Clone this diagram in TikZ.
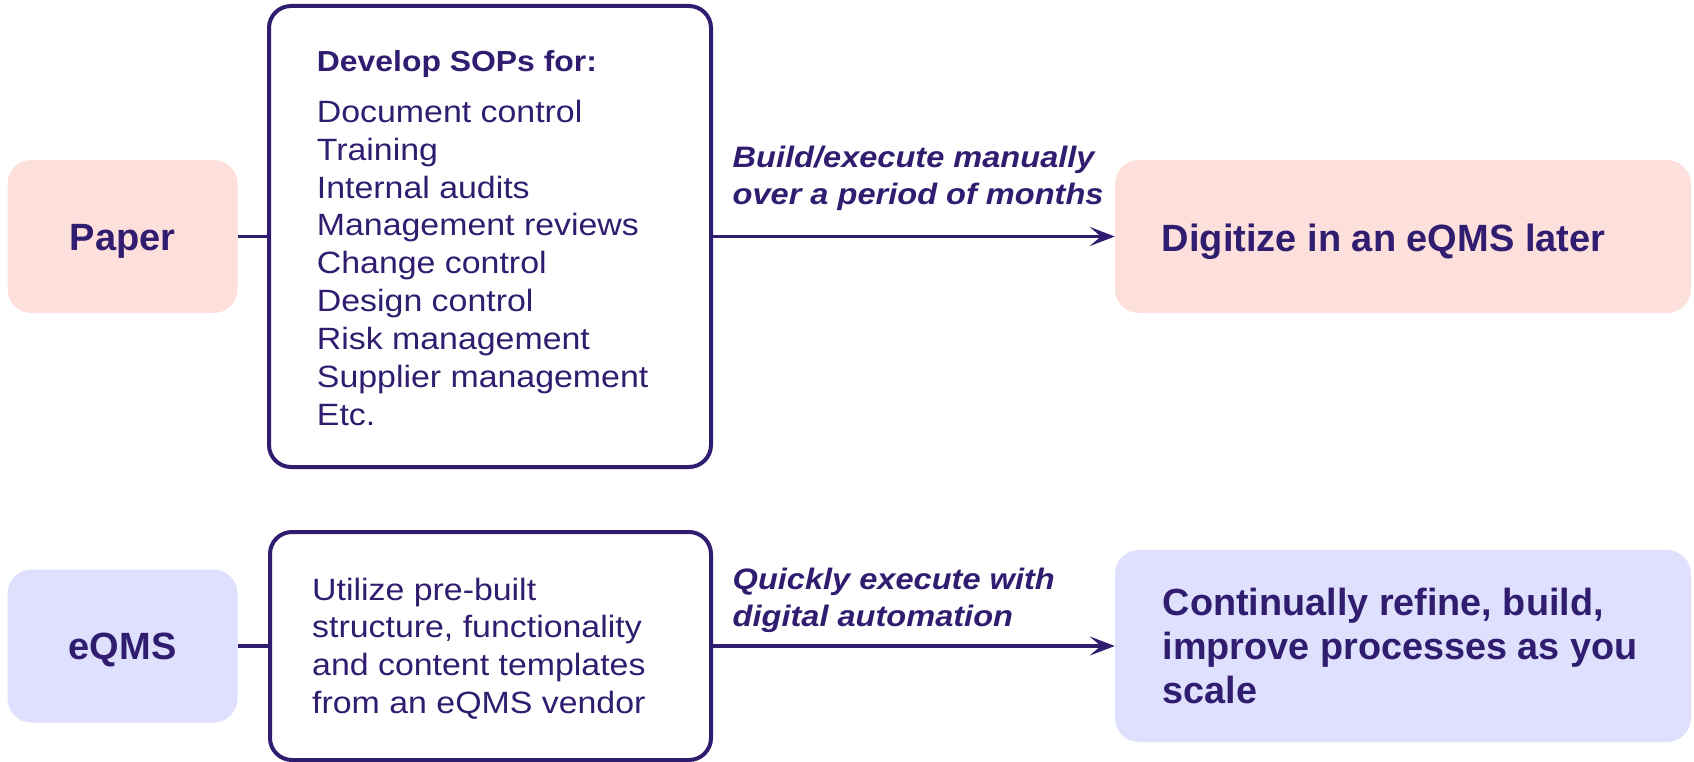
\documentclass[tikz,border=0pt]{standalone}
\usepackage{fontspec}
\setmainfont{Liberation Sans}
\newfontfamily\stretchfam{Liberation Sans}[FakeStretch=1.1]
\usetikzlibrary{arrows.meta}
\definecolor{ink}{HTML}{301D70}
\definecolor{pinkfill}{HTML}{FDE0DB}
\definecolor{lavfill}{HTML}{DFE0FD}
\newcommand{\mybigfont}{\fontsize{38}{44}\selectfont\bfseries}
\newcommand{\myregfont}{\stretchfam\fontsize{30.8}{37.9}\selectfont}
\newcommand{\mytitlefont}{\stretchfam\bfseries\fontsize{29}{35}\selectfont}
\newcommand{\mylabelfont}{\stretchfam\bfseries\itshape\fontsize{29.6}{37.5}\selectfont}
\begin{document}
\begin{tikzpicture}[x=1pt,y=-1pt,
  softbox/.style={rectangle, rounded corners=24pt, inner sep=0pt, draw=none},
  linebox/.style={rectangle, rounded corners=22pt, draw=ink, line width=4pt, fill=white, inner sep=0pt},
  conn/.style={draw=ink, line width=3.6pt},
  arr/.style={conn, -{Stealth[length=25pt,width=19pt,inset=11pt]}},
  txt/.style={inner sep=0pt, text=ink, anchor=base west},
  ctxt/.style={inner sep=0pt, text=ink, anchor=base}
]
\fill[white] (0,0) rectangle (1694,762);
\useasboundingbox (0,0) rectangle (1694,762);

% top row
\node[softbox, fill=pinkfill, minimum width=230pt, minimum height=153pt] (paper) at (122.5,236.5) {};
\node[linebox, minimum width=442pt, minimum height=461pt] (sops) at (490,236.5) {};
\node[softbox, fill=pinkfill, minimum width=576pt, minimum height=153pt] (digit) at (1403,236.5) {};

\node[ctxt, font=\mybigfont] (papert) at (122.5,250) {Paper};
\node[txt, font=\mytitlefont] (sopstitle) at (316.7,71.7) {Develop SOPs for:};
\node[txt] (sopslist) at (316.7,122.3) {\parbox[t]{380pt}{\myregfont Document control\\Training\\Internal audits\\Management reviews\\Change control\\Design control\\Risk management\\Supplier management\\Etc.}};
\node[txt] (lab1) at (732.5,167.3) {\parbox[t]{400pt}{\mylabelfont Build/execute manually\\over a period of months}};
\node[txt, font=\mybigfont] (digitt) at (1161.7,251.7) {Digitize in an eQMS later};

\draw[conn] (paper.east) -- (sops.west);
\draw[arr] (sops.east) -- (digit.west);

% bottom row
\node[softbox, fill=lavfill, minimum width=230pt, minimum height=153pt] (eqms) at (122.5,646) {};
\node[linebox, minimum width=441pt, minimum height=228pt] (vendor) at (490.5,646) {};
\node[softbox, fill=lavfill, minimum width=576pt, minimum height=192pt] (refine) at (1403,646) {};

\node[ctxt, font=\mybigfont] (eqmst) at (122.5,659.5) {eQMS};
\node[txt] (vendort) at (312,600) {\parbox[t]{390pt}{\myregfont Utilize pre-built\\structure, functionality\\and content templates\\from an eQMS vendor}};
\node[txt] (lab2) at (732.5,589) {\parbox[t]{400pt}{\mylabelfont Quickly execute with\\digital automation}};
\node[txt] (refinet) at (1162.5,615) {\parbox[t]{520pt}{\fontsize{37.8}{44}\selectfont\bfseries Continually refine, build,\\improve processes as you\\scale}};

\draw[conn] (eqms.east) -- (vendor.west);
\draw[arr] (vendor.east) -- (refine.west);
\end{tikzpicture}
\end{document}
